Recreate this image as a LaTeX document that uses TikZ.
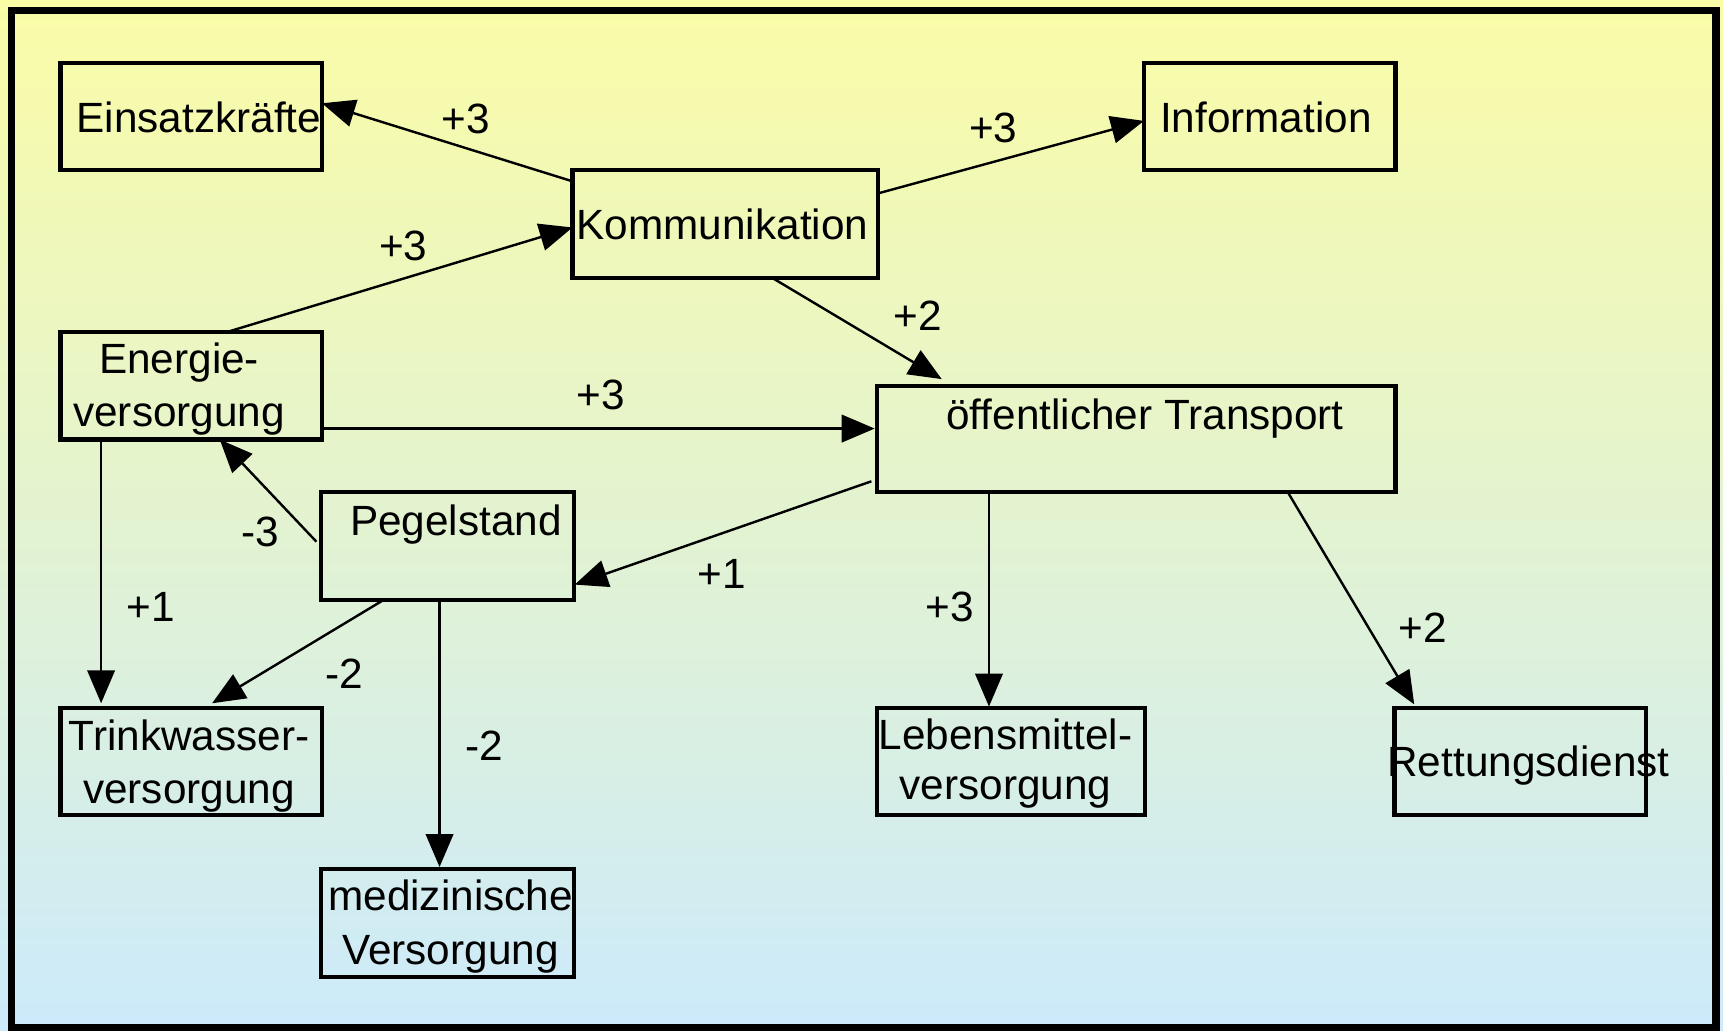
\documentclass[tikz,border=0pt]{standalone}
\usepackage{fontspec}
\setmainfont{Liberation Sans}
\usetikzlibrary{arrows.meta,calc}
\definecolor{bgtop}{RGB}{250,252,166}
\definecolor{bgbot}{RGB}{204,234,251}
\begin{document}
\begin{tikzpicture}[x=1pt,y=-1pt,
  box/.style={draw,line width=3.8pt,inner sep=0pt,outer sep=0pt,minimum height=98pt},
  txt/.style={inner sep=0pt,anchor=base,align=center,font=\fontsize{38.5}{49}\selectfont},
  lbl/.style={inner sep=0pt,font=\fontsize{38.5}{46}\selectfont},
  conn/.style={line width=2.2pt,-{Triangle[length=30pt,width=25pt]}}]
\useasboundingbox (0,0) rectangle (1568,938);
\shade[top color=bgtop,bottom color=bgbot] (0,0) rectangle (1568,938);
\draw[line width=7pt] (10.5,9.5) rectangle (1561.5,935);

% boxes
\node[box,minimum width=238pt] (ein) at (174,106) {};
\node[box,minimum width=229pt] (info) at (1155.5,106) {};
\node[box,minimum width=278pt] (kom) at (660,204) {};
\node[box,minimum width=238pt] (ene) at (174,351) {};
\node[box,minimum width=472pt,minimum height=97pt] (oet) at (1034,399.5) {};
\node[box,minimum width=230pt] (peg) at (407,497) {};
\node[box,minimum width=238pt] (tri) at (174,693) {};
\node[box,minimum width=230pt] (med) at (407,840) {};
\node[box,minimum width=244pt] (leb) at (920,693) {};
\node[box,minimum width=229pt] (ret) at (1383.5,693) {};

% texts
\node[txt] (tein) at (181,121) {Einsatzkräfte};
\node[txt] (tinfo) at (1152,121) {Information};
\node[txt] (tkom) at (657.5,218.4) {Kommunikation};
\node[txt,font=\fontsize{38.5}{47.7}\selectfont] (tene) at (163,387.7) {Energie-\\versorgung};
\node[txt] (toet) at (1042,391.3) {öffentlicher Transport};
\node[txt] (tpeg) at (415,487.5) {Pegelstand};
\node[txt,font=\fontsize{38.5}{48.6}\selectfont] (ttri) at (172,731.6) {Trinkwasser-\\versorgung};
\node[txt,font=\fontsize{38.5}{45.5}\selectfont] (tleb) at (915,728) {Lebensmittel-\\versorgung};
\node[txt,font=\fontsize{38.5}{49.3}\selectfont] (tmed) at (410,878) {medizinische\\Versorgung};
\node[txt] (tret) at (1391,706.8) {Rettungsdienst};

% connectors
\draw[conn] ($(kom.north west)+(0,10)$) -- ($(ein.east)+(0,-12)$);
\draw[conn] ($(kom.north east)+(0,21)$) -- ($(info.west)+(0,4)$);
\draw[conn] ($(ene.north)+(33,0)$) -- ($(kom.west)+(0,3)$);
\draw[conn] ($(kom.south)+(43,0)$) -- ($(oet.north west)+(59,-6)$);
\draw[conn] ($(ene.south east)+(0,-10)$) -- ($(oet.west)+(-2,-9.5)$);
\draw[conn] ($(peg.west)+(-4,-4)$) -- ($(ene.south)+(26,0)$);
\draw[conn] ($(oet.south west)+(-5,-10)$) -- ($(peg.south east)+(1,-14)$);
\draw[conn] ($(ene.south west)+(37,0)$) -- ($(tri.north west)+(37,-4)$);
\draw[conn] ($(peg.south west)+(57,0)$) -- ($(tri.north)+(19,-4)$);
\draw[conn] ($(peg.south)+(-7,0)$) -- ($(med.north)+(-7,-2)$);
\draw[conn] ($(oet.south west)+(102,0)$) -- ($(leb.north)+(-20,-1)$);
\draw[conn] ($(oet.south west)+(374,0)$) -- ($(ret.north west)+(18,-3)$);

% labels
\node[lbl] (l1) at (424,108) {+3};
\node[lbl] (l2) at (904,116) {+3};
\node[lbl] (l3) at (367,224) {+3};
\node[lbl] (l4) at (835,287) {+2};
\node[lbl] (l5) at (547,359) {+3};
\node[lbl] (l6) at (237,484) {-3};
\node[lbl] (l7) at (657,522) {+1};
\node[lbl] (l8) at (137,552) {+1};
\node[lbl] (l9) at (313,613) {-2};
\node[lbl] (l10) at (441,679) {-2};
\node[lbl] (l11) at (864,552) {+3};
\node[lbl] (l12) at (1295,571) {+2};
\end{tikzpicture}
\end{document}
